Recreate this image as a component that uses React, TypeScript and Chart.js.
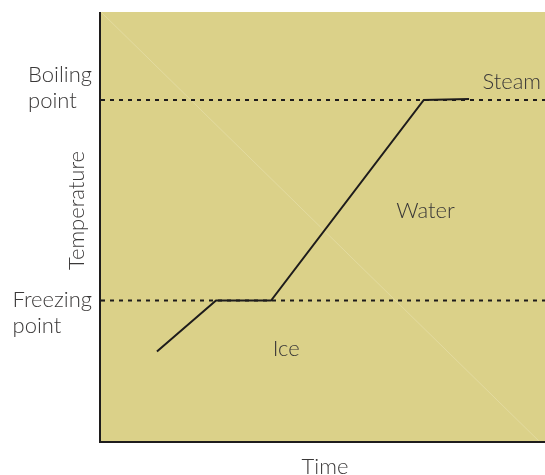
import React, { useEffect, useRef } from "react";
import { Chart, registerables } from "chart.js";

Chart.register(...registerables);

// ---- data ----
const curveX = [12.6, 25.9, 38.3, 72.7, 82.9];
const curveY = [-25.4, 0, 0, 100, 100.4];
const xRange = [0, 100];
const yRange = [-70, 143.8];
const refValues = [100, 0];
const refLabels = [["Boiling", "point"], ["Freezing", "point"]];
const phaseNames = ["Steam", "Water", "Ice"];
const phaseX = [92.5, 73.1, 41.7];
const phaseY = [105.5, 41.3, -27.4];
const xTitle = "Time";
const yTitle = "Temperature";

// ---- styles ----
const BG = "#DBD189";
const INK = "#1e1c1c";
const TEXT = "#3a3838";
const FONT = "300 22px Lato, 'Open Sans', sans-serif";
const refLabelFirstBaseline = [-18, 6];
const refLabelLineGap = 26.5;

const textPlugin = {
  id: "phaseDecor",
  beforeDatasetsDraw(chart: any) {
    const { ctx, chartArea: a } = chart;
    ctx.save();
    ctx.fillStyle = BG;
    ctx.fillRect(a.left, a.top, a.right - a.left, a.bottom - a.top);
    ctx.strokeStyle = "rgba(255,255,240,0.22)";
    ctx.lineWidth = 1;
    ctx.beginPath();
    ctx.moveTo(a.left, a.top);
    ctx.lineTo(a.right, a.bottom + 6);
    ctx.stroke();
    ctx.restore();
  },
  afterDatasetsDraw(chart: any) {
    const { ctx, chartArea: a, scales } = chart;
    const xs = scales.x;
    const ys = scales.y;
    ctx.save();
    ctx.strokeStyle = INK;
    ctx.lineWidth = 2;
    ctx.beginPath();
    ctx.moveTo(a.left - 1, a.top);
    ctx.lineTo(a.left - 1, a.bottom + 1);
    ctx.lineTo(a.right, a.bottom + 1);
    ctx.stroke();
    ctx.lineWidth = 1.2;
    refValues.forEach((v) => {
      const py = ys.getPixelForValue(v);
      ctx.beginPath();
      ctx.moveTo(a.left, py);
      ctx.lineTo(a.left + 4, py);
      ctx.stroke();
    });
    ctx.font = FONT;
    ctx.fillStyle = TEXT;
    ctx.textBaseline = "alphabetic";
    refValues.forEach((v, i) => {
      const py = ys.getPixelForValue(v);
      const lines = refLabels[i];
      const w = Math.max(...lines.map((l) => ctx.measureText(l).width));
      const left = a.left - 9 - w;
      ctx.textAlign = "left";
      lines.forEach((l, j) => {
        ctx.fillText(l, left, py + refLabelFirstBaseline[i] + j * refLabelLineGap);
      });
    });
    ctx.textAlign = "center";
    phaseNames.forEach((n, i) => {
      ctx.fillText(n, xs.getPixelForValue(phaseX[i]), ys.getPixelForValue(phaseY[i]));
    });
    ctx.fillText(xTitle, (a.left + a.right) / 2 + 2, a.bottom + 33);
    ctx.save();
    ctx.translate(a.left - 17, (a.top + a.bottom) / 2 - 16);
    ctx.rotate(-Math.PI / 2);
    ctx.fillText(yTitle, 0, 0);
    ctx.restore();
    ctx.restore();
  },
};

export default function App() {
  const ref = useRef<HTMLCanvasElement | null>(null);
  useEffect(() => {
    document.body.style.margin = "0";
    const canvas = ref.current;
    if (!canvas) return;
    const curve = curveX.map((x, i) => ({ x, y: curveY[i] }));
    const refSets = refValues.map((v) => ({
      data: xRange.map((x) => ({ x, y: v })),
      borderColor: INK,
      borderWidth: 2,
      borderDash: [4, 5],
      pointRadius: 0,
      fill: false,
    }));
    const chart = new Chart(canvas, {
      type: "line",
      data: {
        datasets: [
          ...refSets,
          {
            data: curve,
            borderColor: INK,
            borderWidth: 2,
            pointRadius: 0,
            fill: false,
            tension: 0,
          },
        ],
      } as any,
      options: {
        responsive: false,
        animation: false,
        devicePixelRatio: 1,
        layout: { padding: { left: 101, top: 12, right: 0, bottom: 34 } },
        plugins: { legend: { display: false }, tooltip: { enabled: false } },
        scales: {
          x: { type: "linear", min: xRange[0], max: xRange[1], display: false },
          y: { type: "linear", min: yRange[0], max: yRange[1], display: false },
        },
      },
      plugins: [textPlugin],
    });
    return () => chart.destroy();
  }, []);
  return (
    <canvas
      ref={ref}
      width={545}
      height={475}
      style={{ display: "block", width: 545, height: 475 }}
    />
  );
}
